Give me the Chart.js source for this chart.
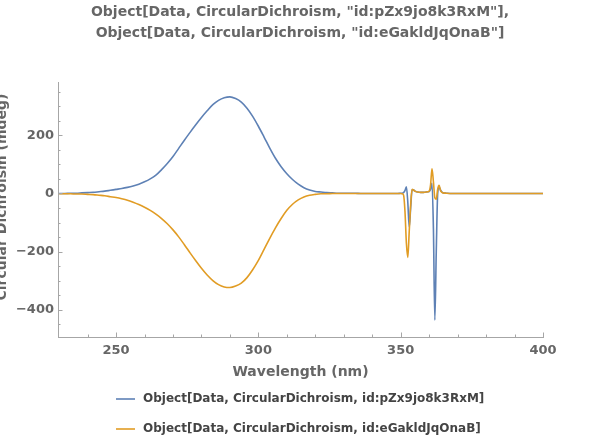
<!DOCTYPE html>
<html><head><meta charset="utf-8">
<script src="https://cdn.jsdelivr.net/npm/chart.js@4.4.1/dist/chart.umd.min.js"></script>
<style>html,body{margin:0;padding:0;background:#fff}#wrap{width:600px;height:443px;position:relative}</style>
</head><body><div id="wrap"><canvas id="c" width="600" height="443"></canvas></div>
<script>
const titleLines = ['Object[Data, CircularDichroism, "id:pZx9jo8k3RxM"],', 'Object[Data, CircularDichroism, "id:eGakldJqOnaB"]'];
const xAxisTitle = 'Wavelength (nm)';
const yAxisTitle = 'Circular Dichroism (mdeg)';
const seriesNames = ['Object[Data, CircularDichroism, id:pZx9jo8k3RxM]', 'Object[Data, CircularDichroism, id:eGakldJqOnaB]'];
const seriesColors = ['#5E81B5', '#E19C24'];

const wavelengths = [230,232,234,236,238,240,242,244,246,248,250,252,254,256,258,260,262,264,266,268,270,272,
 274,276,278,280,282,284,286,288,290,292,294,296,298,300,302,304,306,308,310,312,314,316,318,320,322,324,326,328,330,
 332,334,336,338,340,342,344,346,
 348,349,350,
 350.5,351,351.5,352,352.5,353,353.5,354,354.5,355,
 356,357,358,359,
 359.5,360,360.5,361,361.5,362,362.5,363,363.5,364,364.5,365,
 366,368,370,375,380,385,390,395,400];

const seriesA = [0,0,1,1,2,3,4,6,8,11,14,17,21,26,32,40,50,63,82,103,127,155,
 183,210,236,261,284,305,320,329,332,326,314,293,265,231,194,156,121,92,68,48,32,20,12,7,5,3,2,1,1,
 1,1,0,0,0,0,0,0,
 0,0,1,
 1,3,10,23,-30,-115,-50,12,13,8,
 5,4,4,5,
 6,7,15,35,-120,-435,-200,0,22,12,5,2,
 1,0,0,0,0,0,0,0,0];

const seriesB = [-1,-1,-1,-2,-2,-3,-4,-6,-8,-11,-14,-18,-23,-30,-38,-47,-58,-71,-86,-104,-125,-149,
 -176,-204,-231,-257,-280,-299,-313,-321,-323,-318,-308,-289,-262,-230,-192,-154,-118,-86,-58,-37,-22,-12,-6,-3,-1,-1,0,0,0,
 0,0,0,0,0,0,0,0,
 0,0,0,
 -1,-5,-60,-170,-220,-130,-40,14,12,8,
 5,4,4,5,
 6,8,30,85,40,-15,-20,15,28,10,4,2,
 1,0,0,0,0,0,0,0,0];

const xTicks = [250, 300, 350, 400];
const yTicks = [-400, -200, 0, 200];
const xRange = [229.6, 400];
const yRange = [-493, 383];

const FONT = '"DejaVu Sans", sans-serif';
const axisColor = '#a6a6a6';
const labelColor = '#666666';

function pts(vals){ return wavelengths.map((w,i)=>({x:w, y:vals[i]})); }

const decor = {
  id: 'decor',
  afterDraw(chart){
    const ctx = chart.ctx, xs = chart.scales.x, ys = chart.scales.y, a = chart.chartArea;
    ctx.save();
    ctx.strokeStyle = axisColor; ctx.lineWidth = 1;
    for (let v = 240; v <= 400; v += 10) {
      const major = xTicks.includes(v);
      const px = Math.round(xs.getPixelForValue(v)) + 0.5;
      ctx.beginPath(); ctx.moveTo(px, a.bottom); ctx.lineTo(px, a.bottom - (major ? 4.5 : 2.5)); ctx.stroke();
    }
    for (let v = -450; v <= 350; v += 50) {
      const major = yTicks.includes(v);
      const py = Math.round(ys.getPixelForValue(v)) + 0.5;
      ctx.beginPath(); ctx.moveTo(a.left, py); ctx.lineTo(a.left + (major ? 4.5 : 2.5), py); ctx.stroke();
    }
    ctx.fillStyle = labelColor;
    ctx.font = 'bold 14px ' + FONT;
    ctx.textAlign = 'center'; ctx.textBaseline = 'middle';
    titleLines.forEach((t, i) => ctx.fillText(t, 300, 12 + i * 21));
    ctx.fillText(xAxisTitle, (a.left + a.right) / 2, 372);
    ctx.save(); ctx.translate(2, 197); ctx.rotate(-Math.PI / 2); ctx.fillText(yAxisTitle, 0, 0); ctx.restore();
    // legend
    ctx.font = 'bold 12px ' + FONT;
    ctx.textAlign = 'left';
    seriesNames.forEach((n, i) => {
      const y = 399 + i * 30;
      ctx.strokeStyle = seriesColors[i]; ctx.lineWidth = 1.6;
      ctx.beginPath(); ctx.moveTo(116, y); ctx.lineTo(135, y); ctx.stroke();
      ctx.fillStyle = '#444444';
      ctx.fillText(n, 143, y);
    });
    ctx.restore();
  }
};

new Chart(document.getElementById('c'), {
  type: 'line',
  data: {
    datasets: [
      { label: seriesNames[0], data: pts(seriesA), borderColor: seriesColors[0], backgroundColor: seriesColors[0], borderWidth: 1.6, pointRadius: 0, cubicInterpolationMode: 'monotone', fill: false, order: 2 },
      { label: seriesNames[1], data: pts(seriesB), borderColor: seriesColors[1], backgroundColor: seriesColors[1], borderWidth: 1.6, pointRadius: 0, cubicInterpolationMode: 'monotone', fill: false, order: 1 }
    ]
  },
  options: {
    responsive: false, animation: false, devicePixelRatio: 1,
    layout: { padding: { top: 82, right: 57, bottom: 56, left: 0 } },
    plugins: { legend: { display: false }, title: { display: false }, tooltip: { enabled: false } },
    scales: {
      x: {
        type: 'linear', min: xRange[0], max: xRange[1],
        afterBuildTicks: s => { s.ticks = xTicks.map(v => ({ value: v })); },
        afterFit: s => { s.height = 50; },
        grid: { display: false, drawTicks: false },
        border: { display: true, color: axisColor, width: 1 },
        ticks: { color: labelColor, font: { family: FONT, size: 13, weight: 'bold' }, padding: 6, maxRotation: 0, autoSkip: false }
      },
      y: {
        type: 'linear', min: yRange[0], max: yRange[1],
        afterBuildTicks: s => { s.ticks = yTicks.map(v => ({ value: v })); },
        afterFit: s => { s.width = 58; },
        grid: { display: false, drawTicks: false },
        border: { display: true, color: axisColor, width: 1 },
        ticks: { color: labelColor, font: { family: FONT, size: 13, weight: 'bold' }, padding: 4, autoSkip: false,
          callback: v => (v < 0 ? '\u2212' + Math.abs(v) : String(v)) }
      }
    }
  },
  plugins: [decor]
});
</script></body></html>
